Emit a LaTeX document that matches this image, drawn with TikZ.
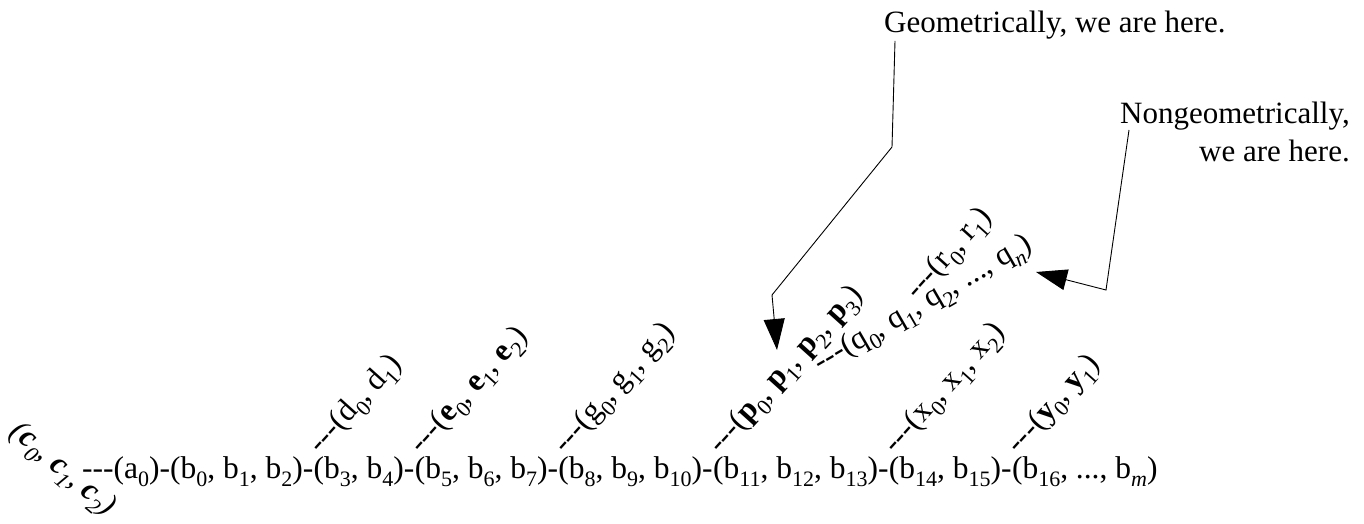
\documentclass[tikz,border=0pt]{standalone}
\usepackage{fontspec}
\setmainfont{Liberation Serif}
\usetikzlibrary{arrows.meta,calc}
\newcommand{\sbs}[1]{\raisebox{-0.27em}{\fontsize{22}{22}\selectfont #1}}
\tikzset{
  seg/.style={anchor=base west,inner sep=0pt},
  twig/.style={anchor=base west,inner sep=0pt,rotate=#1},
  twig/.default=48,
  callout/.style={inner sep=0pt,font=\fontsize{31}{37.5}\selectfont},
  pointer/.style={-{Triangle[length=31pt,width=21pt]},line width=0.9pt},
}

\begin{document}
\begin{tikzpicture}[x=1pt,y=1pt,font=\fontsize{31.5}{38}\selectfont]
  \useasboundingbox (0,0) rectangle (1364,523);
  % main chain
  \node[seg] (s1) at (82,45) {-{}-{}-(a\sbs{0})-(b\sbs{0}, b\sbs{1}, b\sbs{2})-};
  \node[seg] (s2) at (s1.base east) {(b\sbs{3}, b\sbs{4})-};
  \node[seg] (s3) at (s2.base east) {(b\sbs{5}, b\sbs{6}, b\sbs{7})-};
  \node[seg] (s4) at (s3.base east) {(b\sbs{8}, b\sbs{9}, b\sbs{10})-};
  \node[seg] (s5) at (s4.base east) {(b\sbs{11}, b\sbs{12}, b\sbs{13})-};
  \node[seg] (s6) at (s5.base east) {(b\sbs{14}, b\sbs{15})-};
  \node[seg] (s7) at (s6.base east) {(b\sbs{16}, ..., b\sbs{\textit{m}})};
  \node[rotate=-40,inner sep=0pt] (c) at (62,53)
    {\textit{(\textbf{c}\sbs{0}, \textbf{c}\sbs{1}, \textbf{c}\sbs{2})}};

  % branches
  \node[twig] (d) at ($(s1.base east)+(7,23)$) {-{}-{}-(d\sbs{0}, d\sbs{1})};
  \node[twig] (e) at ($(s2.base east)+(7,23)$)
    {-{}-{}-(\textbf{e}\sbs{0}, \textbf{e}\sbs{1}, \textbf{e}\sbs{2})};
  \node[twig] (g) at ($(s3.base east)+(7,23)$) {-{}-{}-(g\sbs{0}, g\sbs{1}, g\sbs{2})};
  \node[twig] (p1) at ($(s4.base east)+(7,23)$) {-{}-{}-(\textbf{p}\sbs{0}, \textbf{p}\sbs{1},};
  \node[twig] (p2) at (p1.base east) {~\textbf{p}\sbs{2}, \textbf{p}\sbs{3})};
  \node[twig=30] (q1) at ($(p1.base east)+(18,-9)$) {-{}-{}-(q\sbs{0}, q\sbs{1},};
  \node[twig=30] (q2) at (q1.base east) {~q\sbs{2}, ..., q\sbs{\textit{n}})};
  \node[twig] (r) at ($(q1.base east)+(-6,12)$) {-{}-{}-(r\sbs{0}, r\sbs{1})};
  \node[twig] (x) at ($(s5.base east)+(7,23)$) {-{}-{}-(x\sbs{0}, x\sbs{1}, x\sbs{2})};
  \node[twig] (y) at ($(s6.base east)+(7,23)$) {-{}-{}-(\textbf{y}\sbs{0}, \textbf{y}\sbs{1})};

  % callouts
  \node[callout,anchor=base west] (geo) at (884,490) {Geometrically, we are here.};
  \node[callout,anchor=north west,align=right] (ngeo) at (1120,421)
    {Nongeometrically,\\we are here.};
  \coordinate (ptip) at (777,173);
  \coordinate (qtip) at (1036,251);
  \draw[pointer] ($(geo.south west)+(11,-1)$) -- (892,376) -- (772,228) -- (ptip);
  \draw[pointer] ($(ngeo.north west)+(9,-28)$) -- (1106,233) -- (qtip);
\end{tikzpicture}
\end{document}
